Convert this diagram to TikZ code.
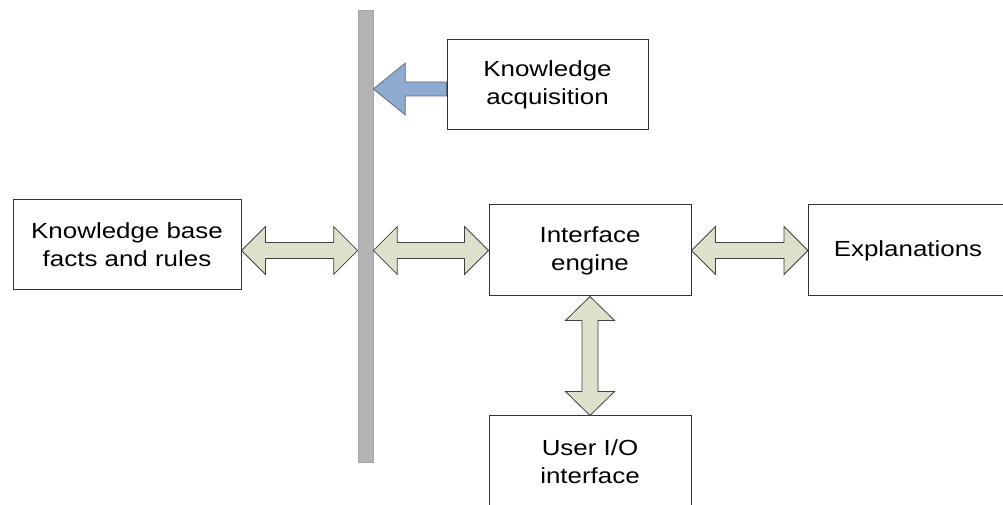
\documentclass[tikz,border=0pt]{standalone}
\usepackage{fontspec}
\newfontfamily\labelfont[FakeStretch=1.185]{Liberation Sans}
\usetikzlibrary{calc}

\definecolor{arrowgreen}{HTML}{DDE1CB}
\definecolor{arrowblue}{HTML}{8FAACF}
\definecolor{arrowblueline}{HTML}{5C6F88}
\definecolor{barfill}{HTML}{B3B3B3}
\definecolor{barline}{HTML}{A6A6A6}
\definecolor{boxline}{HTML}{333333}

\tikzset{
  block/.style={draw=boxline, line width=0.75pt, fill=white, align=center,
    inner sep=0pt, font=\labelfont\fontsize{16.4}{21}\selectfont},
  dblarrow/.style={draw=black!75, line width=0.6pt, fill=arrowgreen, line join=miter},
  feedarrow/.style={draw=arrowblueline, line width=0.6pt, fill=arrowblue, line join=miter},
  busbar/.style={draw=barline, line width=0.5pt, fill=barfill, inner sep=0pt,
    minimum width=11.25pt, minimum height=339pt}
}

% horizontal double-headed block arrow between two points at the same height
\newcommand\hdblarrow[2]{%
  \path[dblarrow] let \p1=(#1), \p2=(#2) in
    (\x1,\y1) -- (\x1+18pt,\y1+18pt) -- (\x1+18pt,\y1+6pt) -- (\x2-18pt,\y1+6pt)
    -- (\x2-18pt,\y1+18pt) -- (\x2,\y1) -- (\x2-18pt,\y1-18pt) -- (\x2-18pt,\y1-6pt)
    -- (\x1+18pt,\y1-6pt) -- (\x1+18pt,\y1-18pt) -- cycle;}
% vertical double-headed block arrow, first point on top
\newcommand\vdblarrow[2]{%
  \path[dblarrow] let \p1=(#1), \p2=(#2) in
    (\x1,\y1) -- (\x1+18.4pt,\y1-18pt) -- (\x1+6pt,\y1-18pt) -- (\x1+6pt,\y2+18pt)
    -- (\x1+18.4pt,\y2+18pt) -- (\x1,\y2) -- (\x1-18.4pt,\y2+18pt) -- (\x1-6pt,\y2+18pt)
    -- (\x1-6pt,\y1-18pt) -- (\x1-18.4pt,\y1-18pt) -- cycle;}

\begin{document}
\begin{tikzpicture}[x=0.75pt,y=-0.75pt]
\clip (0,0) rectangle (1003,505);
\fill[white] (0,0) rectangle (1003,505);

% vertical bus
\node[busbar] (bar) at (365.5,236) {};

% boxes
\node[block, minimum width=150.75pt, minimum height=67.5pt] (ka)  at (547.5,85)    {Knowledge\\acquisition};
\node[block, minimum width=171pt,    minimum height=67.5pt] (kb)  at (127,245)     {Knowledge base\\facts and rules};
\node[block, minimum width=151.5pt,  minimum height=68.25pt] (ie) at (590,250.5)   {Interface\\engine};
\node[block, minimum width=151.5pt,  minimum height=68.25pt] (uio) at (590,461.5)  {User I/O\\interface};
% the explanations box runs past the right edge
\node[block, minimum width=156pt,    minimum height=68.25pt, anchor=west] (ex) at (808,250.5) {};
\node[font=\labelfont\fontsize{16.4}{21}\selectfont] (extext) at (908,250.5) {Explanations};

% connectors
\hdblarrow{kb.east |- ie.west}{bar.west |- ie.west}
\hdblarrow{bar.east |- ie.west}{ie.west}
\hdblarrow{ie.east}{ex.west}
\vdblarrow{ie.south}{uio.north}

% acquisition feeds the bus
\path[feedarrow] let \p1=([yshift=-3pt]bar.east |- ka.west), \p2=([yshift=-3pt]ka.west) in
  (\x1,\y1) -- (\x1+24pt,\y1+19.5pt) -- (\x1+24pt,\y1+5.25pt) -- (\x2,\y1+5.25pt)
  -- (\x2,\y1-5.25pt) -- (\x1+24pt,\y1-5.25pt) -- (\x1+24pt,\y1-19.5pt) -- cycle;
\end{tikzpicture}
\end{document}
